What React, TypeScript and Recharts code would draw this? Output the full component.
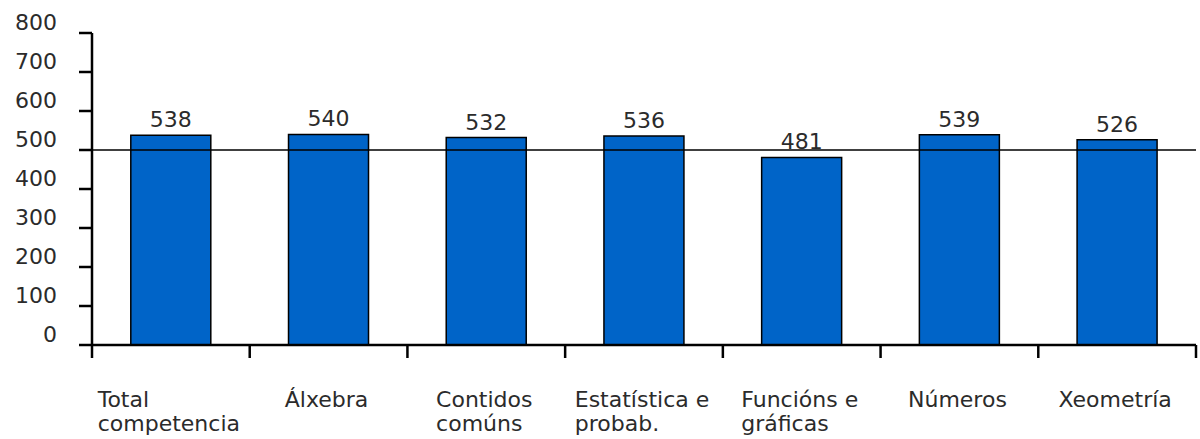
import React from 'react';
import { BarChart, Bar, XAxis, YAxis, ReferenceLine, LabelList } from 'recharts';

// Galician category names, split the way they wrap under the axis
const categoryLines: string[][] = [
  ['Total', 'competencia'],
  ['Álxebra'],
  ['Contidos', 'comúns'],
  ['Estatística e', 'probab.'],
  ['Funcións e', 'gráficas'],
  ['Números'],
  ['Xeometría'],
];
const scores = [538, 540, 532, 536, 481, 539, 526];
const yTicks = [0, 100, 200, 300, 400, 500, 600, 700, 800];
const meanLine = 500;

const data = categoryLines.map((lines, i) => ({
  name: lines.join(' '),
  score: scores[i],
}));

const FONT = '"DejaVu Sans", Verdana, sans-serif';
const TEXT = '#2b2b2b';

let ctx: CanvasRenderingContext2D | null = null;
const textWidth = (s: string) => {
  if (!ctx) {
    ctx = document.createElement('canvas').getContext('2d');
    if (ctx) ctx.font = '22px "DejaVu Sans"';
  }
  return ctx ? ctx.measureText(s).width : s.length * 12;
};

const YTick = (props: any) => {
  const { x, y, payload } = props;
  return (
    <g>
      <line x1={x + 22} x2={x + 35} y1={y} y2={y} stroke="#000" strokeWidth={2.5} />
      <text x={x} y={y - 11} dy="0.35em" textAnchor="end" fontSize={22} fontFamily={FONT} fill={TEXT}>
        {payload.value}
      </text>
    </g>
  );
};

const XTick = (props: any) => {
  const { x, y, payload, index, visibleTicksCount } = props;
  const half = payload.offset ?? 0;
  const lines = categoryLines[index] || [String(payload.value)];
  const w = Math.max(...lines.map(textWidth));
  const left = x - w / 2 - 2;
  return (
    <g>
      <line x1={x - half} x2={x - half} y1={y} y2={y + 13} stroke="#000" strokeWidth={2.5} />
      {index === visibleTicksCount - 1 && (
        <line x1={x + half} x2={x + half} y1={y} y2={y + 13} stroke="#000" strokeWidth={2.5} />
      )}
      {lines.map((ln, i) => (
        <text key={i} x={left} y={y + 62 + i * 24} textAnchor="start" fontSize={22} fontFamily={FONT} fill={TEXT}>
          {ln}
        </text>
      ))}
    </g>
  );
};

export default function App() {
  return (
    <div style={{ position: 'absolute', left: 0, top: 0, width: 1200, height: 439, background: '#fff' }}>
      <BarChart
        width={1200}
        height={439}
        data={data}
        margin={{ top: 33, right: 4, left: 0, bottom: 0 }}
        barCategoryGap="24.6%"
      >
        <YAxis
          width={92}
          domain={[0, 800]}
          ticks={yTicks}
          interval={0}
          tickSize={13}
          tickMargin={22}
          stroke="#000"
          strokeWidth={2.5}
          tickLine={false}
          axisLine={{ stroke: '#000', strokeWidth: 2.5 }}
          tick={<YTick />}
        />
        <XAxis
          dataKey="name"
          height={94}
          interval={0}
          tickSize={0}
          tickMargin={0}
          tickLine={false}
          stroke="#000"
          strokeWidth={2.5}
          axisLine={{ stroke: '#000', strokeWidth: 2.5 }}
          tick={<XTick />}
        />
        <Bar dataKey="score" fill="#0064C8" stroke="#000" strokeWidth={1.5} isAnimationActive={false}>
          <LabelList dataKey="score" position="top" offset={8} fontSize={22} fontFamily={FONT} fill={TEXT} />
        </Bar>
        <ReferenceLine y={meanLine} stroke="#000" strokeWidth={1.5} ifOverflow="extendDomain" />
      </BarChart>
    </div>
  );
}
